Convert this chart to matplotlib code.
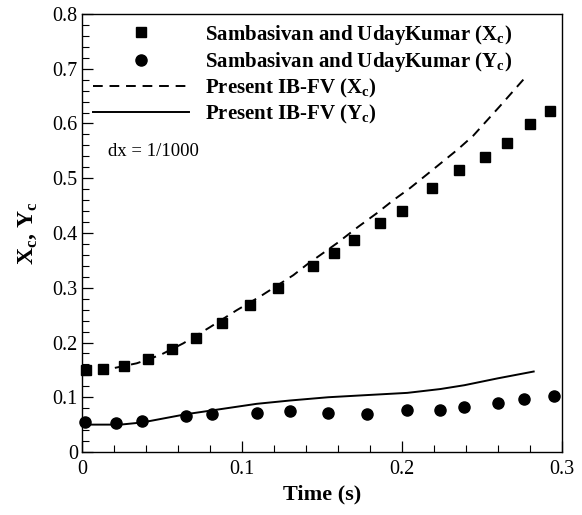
#!/usr/bin/env python3
"""Centroid trajectory (Xc, Yc) vs time: IB-FV against Sambasivan and UdayKumar."""

import matplotlib

matplotlib.use("Agg")
import matplotlib.pyplot as plt
from matplotlib.lines import Line2D
from matplotlib.ticker import FuncFormatter, MultipleLocator

plt.rcParams["font.family"] = ["Liberation Serif", "DejaVu Serif"]
plt.rcParams["mathtext.fontset"] = "custom"
plt.rcParams["mathtext.rm"] = "Liberation Serif:bold"
plt.rcParams["mathtext.bf"] = "Liberation Serif:bold"

# reference data (Sambasivan and UdayKumar)
ref_xc_t = [0.0025, 0.0133, 0.0265, 0.0415, 0.0565, 0.0713, 0.0877, 0.1052, 0.1227,
            0.1446, 0.1577, 0.1702, 0.1865, 0.2002, 0.2190, 0.2356, 0.2519, 0.2656,
            0.2802, 0.2925]
ref_xc = [0.149, 0.152, 0.157, 0.170, 0.189, 0.208, 0.236, 0.268, 0.300,
          0.339, 0.363, 0.387, 0.418, 0.441, 0.482, 0.515, 0.538, 0.564,
          0.599, 0.623]

ref_yc_t = [0.0019, 0.0213, 0.0377, 0.0650, 0.0813, 0.1092, 0.1298, 0.1538, 0.1783,
            0.2033, 0.2240, 0.2390, 0.2598, 0.2760, 0.2948]
ref_yc = [0.054, 0.053, 0.057, 0.066, 0.069, 0.071, 0.074, 0.071, 0.069,
          0.076, 0.076, 0.083, 0.090, 0.097, 0.102]

# present IB-FV
ibfv_t = [0.0, 0.0195, 0.0342, 0.0488, 0.0633, 0.0800, 0.0967, 0.1113, 0.1321,
          0.1404, 0.1592, 0.1727, 0.1842, 0.1946, 0.2050, 0.2190, 0.2350, 0.2446,
          0.2613, 0.2779]
ibfv_xc = [0.147, 0.153, 0.162, 0.177, 0.1985, 0.228, 0.259, 0.284, 0.323,
           0.342, 0.381, 0.4115, 0.436, 0.460, 0.482, 0.515, 0.553, 0.578,
           0.632, 0.687]

ibfv_yc_t = [0.0, 0.0240, 0.0377, 0.0650, 0.0813, 0.1092, 0.1298, 0.1538, 0.1783,
             0.2033, 0.2240, 0.2390, 0.2598, 0.2823]
ibfv_yc = [0.050, 0.050, 0.054, 0.069, 0.076, 0.088, 0.094, 0.100, 0.104,
           0.108, 0.115, 0.122, 0.1345, 0.147]

fig = plt.figure(figsize=(5.82, 5.15), dpi=100)
ax = fig.add_axes([82 / 582, 1 - 452 / 515, 480 / 582, 438 / 515])

ax.plot(ibfv_t, ibfv_xc, color="black", lw=1.4, dashes=(5, 3.5))
ax.plot(ibfv_yc_t, ibfv_yc, color="black", lw=1.4)
ax.plot(ref_xc_t, ref_xc, ls="none", marker="s", ms=7.2, color="black", clip_on=False)
ax.plot(ref_yc_t, ref_yc, ls="none", marker="o", ms=8.0, color="black", clip_on=False)

ax.set_xlim(0, 0.3)
ax.set_ylim(0, 0.8)
ax.xaxis.set_major_locator(MultipleLocator(0.1))
ax.xaxis.set_minor_locator(MultipleLocator(0.02))
ax.yaxis.set_major_locator(MultipleLocator(0.1))
ax.yaxis.set_minor_locator(MultipleLocator(0.02))
fmt = FuncFormatter(lambda v, p: "0" if abs(v) < 1e-9 else f"{v:g}")
ax.xaxis.set_major_formatter(fmt)
ax.yaxis.set_major_formatter(fmt)
ax.tick_params(which="both", direction="in", top=False, right=False, labelsize=14.5)
ax.tick_params(which="major", length=8, width=0.9)
ax.tick_params(which="minor", length=5, width=0.8)
ax.tick_params(axis="x", pad=6)
ax.tick_params(axis="y", pad=3)
for spine in ax.spines.values():
    spine.set_linewidth(1.0)

ax.set_xlabel("Time (s)", fontsize=16, fontweight="bold", labelpad=4)
ax.set_ylabel(r"X$_\mathbf{c}$, Y$_\mathbf{c}$", fontsize=17, fontweight="bold", labelpad=10)

ax.text(108, 515 - 152, "dx = 1/1000", transform=None, fontsize=13.5, va="center")

handles = [
    Line2D([], [], ls="none", marker="s", ms=7.2, color="black"),
    Line2D([], [], ls="none", marker="o", ms=8.0, color="black"),
    Line2D([], [], color="black", lw=1.4, dashes=(5, 3.5)),
    Line2D([], [], color="black", lw=1.4),
]
labels = [
    r"Sambasivan and UdayKumar (X$_\mathbf{c}$)",
    r"Sambasivan and UdayKumar (Y$_\mathbf{c}$)",
    r"Present IB-FV (X$_\mathbf{c}$)",
    r"Present IB-FV (Y$_\mathbf{c}$)",
]
ax.legend(handles, labels, loc="upper left", bbox_to_anchor=(0.0229, 0.98),
          frameon=False, borderpad=0, borderaxespad=0, handlelength=4.6,
          handletextpad=0.8, labelspacing=0.15, prop={"size": 15, "weight": "bold"})

fig.savefig("out.png", dpi=100)
